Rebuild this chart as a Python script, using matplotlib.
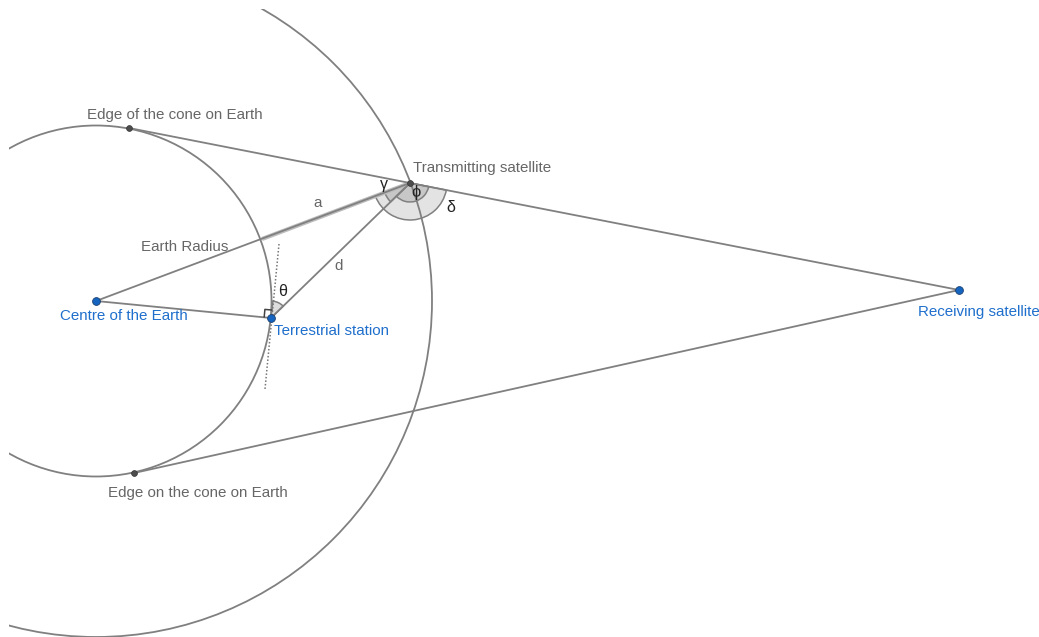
import numpy as np
import matplotlib
matplotlib.use("Agg")
import matplotlib.pyplot as plt
from matplotlib.patches import Circle, Wedge, Rectangle

plt.rcParams['font.family'] = ['Liberation Sans', 'DejaVu Sans']

# all positions are image pixels
centre = (96, 301)
station = (271, 318)
transmitter = (410, 183)
receiver = (959, 290)
edge_top = (129, 128)
edge_bottom = (134, 473)
tangent_top = (279, 244)
tangent_bottom = (265, 389)
highlight_start = (262, 239)

earth_radius = 175.5
orbit_radius = 336

segments = [
    (edge_top, transmitter),
    (transmitter, receiver),
    (edge_bottom, receiver),
    (centre, station),
    (centre, transmitter),
    (station, transmitter),
]

blue_labels = [
    ("Centre of the Earth", 60, 316),
    ("Terrestrial station", 274, 331),
    ("Receiving satellite", 918, 312),
]
grey_labels = [
    ("Edge of the cone on Earth", 87, 115),
    ("Transmitting satellite", 413, 168),
    ("Earth Radius", 141, 247),
    ("Edge on the cone on Earth", 108, 493),
]
small_labels = [("a", 318, 203, "#666666", 10.9), ("d", 339, 266, "#666666", 10.9),
                ("γ", 384, 185, "#222222", 11.5), ("ϕ", 416, 193, "#222222", 12),
                ("δ", 451, 207, "#222222", 11.5), ("θ", 283, 291, "#222222", 11.5)]

LINE = "#808080"
BLUE = "#1f6fcc"
GREY = "#666666"


def angle(p, q):
    return np.degrees(np.arctan2(q[1] - p[1], q[0] - p[0])) % 360


def wedge(ax, p, r, a, b, alpha):
    ax.add_patch(Wedge(p, r, a, b, facecolor=(0.4, 0.4, 0.4, alpha), edgecolor=LINE, lw=1.1, zorder=2))


fig = plt.figure(figsize=(10.39, 6.37), dpi=100)
ax = fig.add_axes([0, 0, 1, 1])
ax.set_xlim(0, 1039)
ax.set_ylim(637, 0)
ax.axis("off")

frame = Rectangle((9, 9), 1030, 628, transform=ax.transData, visible=False)
ax.add_patch(frame)
for r in (earth_radius, orbit_radius):
    c = Circle(centre, r, fill=False, edgecolor=LINE, lw=1.3, zorder=3)
    ax.add_patch(c)
    c.set_clip_path(frame)

# angle sectors, y axis is flipped so angles run clockwise on screen
to_receiver = angle(transmitter, receiver)
to_centre = angle(transmitter, centre)
to_station = angle(transmitter, station)
wedge(ax, transmitter, 37, to_receiver, to_centre, 0.18)
wedge(ax, transmitter, 27, to_station, to_centre, 0.22)
wedge(ax, transmitter, 19, to_receiver, to_station, 0.22)
wedge(ax, station, 17, angle(station, tangent_top), angle(station, transmitter), 0.22)

# highlight along the radius to the satellite
ax.plot(*zip(highlight_start, transmitter), color="#bdbdbd", lw=3, zorder=3, solid_capstyle="butt")

for p, q in segments:
    ax.plot(*zip(p, q), color=LINE, lw=1.3, zorder=4)

ax.plot(*zip(tangent_top, tangent_bottom), color="#777777", lw=1.1, ls=(0, (1, 1.3)), zorder=3)

# right angle mark
ax.plot([264.2, 264.9, 271.6], [316.9, 309.4, 310.0], color="#444444", lw=1.1, zorder=4)

for p in (centre, station, receiver):
    ax.plot(*p, "o", ms=5.6, mfc="#1565c0", mec="#1a3f6f", mew=0.6, zorder=6)
for p in (edge_top, edge_bottom, transmitter):
    ax.plot(*p, "o", ms=4.2, mfc="#4d4d4d", mec="#333333", mew=0.5, zorder=6)

for s, x, y in blue_labels:
    ax.text(x, y, s, color=BLUE, fontsize=10.9, va="center", ha="left", zorder=7)
for s, x, y in grey_labels:
    ax.text(x, y, s, color=GREY, fontsize=10.9, va="center", ha="left", zorder=7)
for s, x, y, col, size in small_labels:
    ax.text(x, y, s, color=col, fontsize=size, va="center", ha="center", zorder=7)

fig.savefig("out.png", dpi=100)
